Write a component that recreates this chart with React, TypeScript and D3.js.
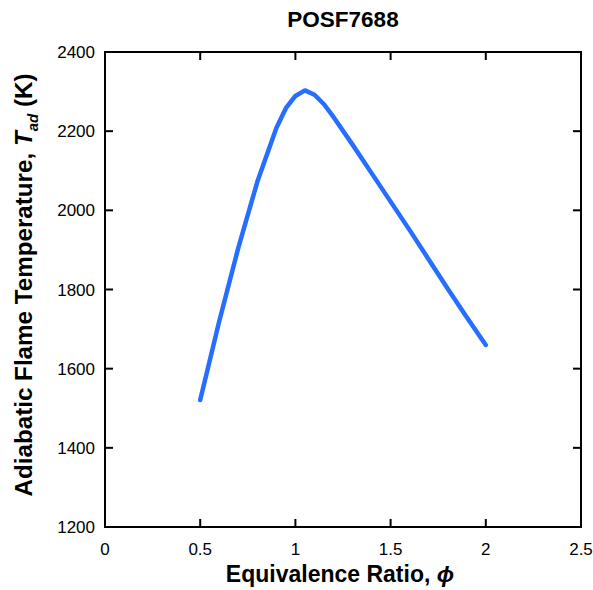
import React from "react";
import * as d3 from "d3";

const phi = [0.5, 0.6, 0.7, 0.8, 0.9, 0.95, 1.0, 1.05, 1.1, 1.15, 1.2, 1.3, 1.4, 1.5, 1.6, 1.7, 1.8, 1.9, 2.0];
const tad = [1521, 1720, 1905, 2072, 2208, 2258, 2289, 2303, 2292, 2268, 2236, 2166, 2094, 2022, 1950, 1876, 1802, 1730, 1660];
const xTicks = [0, 0.5, 1, 1.5, 2, 2.5];
const yTicks = [1200, 1400, 1600, 1800, 2000, 2200, 2400];

const W = 593, H = 590;
const L = 105, R = 581, T = 52, B = 527;
const font = "Liberation Sans, Arial, sans-serif";

export default function App() {
  const x = d3.scaleLinear().domain([0, 2.5]).range([L, R]);
  const y = d3.scaleLinear().domain([1200, 2400]).range([B, T]);
  const line = d3.line<number>().x((_, i) => x(phi[i])).y((d) => y(d));
  const tl = 8;
  return (
    <svg width={W} height={H} style={{ position: "absolute", left: 0, top: 0 }} fontFamily={font}>
      <rect width={W} height={H} fill="#fff" />
      {xTicks.map((t) => (
        <g key={"x" + t}>
          <line x1={x(t)} x2={x(t)} y1={B} y2={B - tl} stroke="#000" strokeWidth={2} />
          <line x1={x(t)} x2={x(t)} y1={T} y2={T + tl} stroke="#000" strokeWidth={2} />
          <text x={x(t)} y={555} textAnchor="middle" fontSize={17} fill="#000">{String(t)}</text>
        </g>
      ))}
      {yTicks.map((t) => (
        <g key={"y" + t}>
          <line x1={L} x2={L + tl} y1={y(t)} y2={y(t)} stroke="#000" strokeWidth={2} />
          <line x1={R} x2={R - tl} y1={y(t)} y2={y(t)} stroke="#000" strokeWidth={2} />
          <text x={95} y={y(t) + 6} textAnchor="end" fontSize={17} fill="#000">{String(t)}</text>
        </g>
      ))}
      <rect x={L} y={T} width={R - L} height={B - T} fill="none" stroke="#000" strokeWidth={2} />
      <path d={line(tad) || ""} fill="none" stroke="#266EFF" strokeWidth={4.5} strokeLinejoin="round" strokeLinecap="round" />
      <text x={(L + R) / 2} y={27} textAnchor="middle" fontSize={22.5} fontWeight="bold" fill="#000">POSF7688</text>
      <text x={340} y={582} textAnchor="middle" fontSize={23} fontWeight="bold" fill="#000">
        Equivalence Ratio, <tspan fontStyle="italic">ϕ</tspan>
      </text>
      <text transform={`translate(32,285) rotate(-90)`} textAnchor="middle" fontSize={24.2} fontWeight="bold" fill="#000">
        Adiabatic Flame Temperature, <tspan fontStyle="italic">T</tspan>
        <tspan fontStyle="italic" fontSize={15} dy={6}>ad</tspan>
        <tspan dy={-6}> (K)</tspan>
      </text>
    </svg>
  );
}
